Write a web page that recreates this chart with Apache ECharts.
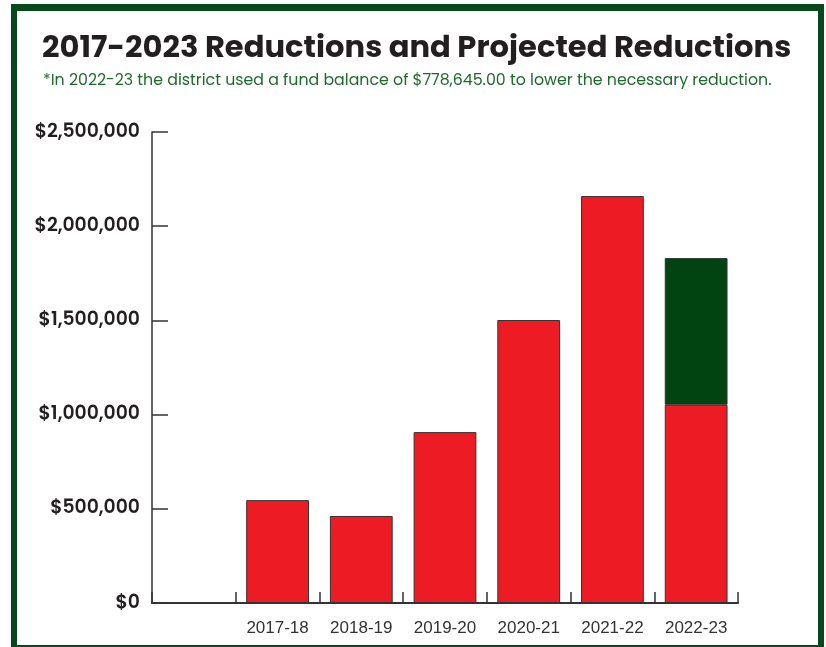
<!DOCTYPE html>
<html>
<head>
<meta charset="utf-8">
<script src="https://cdn.jsdelivr.net/npm/echarts@6/dist/echarts.min.js"></script>
<style>
html,body{margin:0;padding:0;background:#fff;}
#main{width:826px;height:647px;}
</style>
</head>
<body>
<div id="main"></div>
<script>
const categories = ['', '2017-18', '2018-19', '2019-20', '2020-21', '2021-22', '2022-23'];
const reductions = [null, 546000, 462000, 907000, 1502000, 2160000, 1052000];
const fundBalance = [null, null, null, null, null, null, 778645];
const yTicks = [0, 500000, 1000000, 1500000, 2000000, 2500000];

const frameColor = '#06491a';
const chart = echarts.init(document.getElementById('main'), null, {renderer: 'canvas'});
const fmt = v => '$' + v.toLocaleString('en-US');

chart.setOption({
  animation: false,
  backgroundColor: '#fff',
  title: [{
    text: '2017-2023 Reductions and Projected Reductions',
    left: 37,
    top: 29,
    textStyle: {fontFamily: 'Poppins, "Open Sans", sans-serif', fontWeight: 'bold', fontSize: 30.6, color: '#231f20'}
  }, {
    text: '*In 2022-23 the district used a fund balance of $778,645.00 to lower the necessary reduction.',
    left: 38,
    top: 68,
    textStyle: {fontFamily: 'Poppins, "Open Sans", sans-serif', fontWeight: 'normal', fontSize: 15.8, color: '#1d6b2b'}
  }],
  graphic: [
    {type: 'rect', shape: {x: 11, y: 4, width: 813, height: 7}, style: {fill: frameColor}, silent: true},
    {type: 'rect', shape: {x: 11, y: 4, width: 6, height: 643}, style: {fill: frameColor}, silent: true},
    {type: 'rect', shape: {x: 818, y: 4, width: 6, height: 643}, style: {fill: frameColor}, silent: true},
    {type: 'rect', shape: {x: 11, y: 645, width: 813, height: 2}, style: {fill: frameColor}, silent: true}
  ],
  grid: {left: 152, right: 88, top: 132, bottom: 44, containLabel: false},
  xAxis: {
    type: 'category',
    data: categories,
    boundaryGap: true,
    axisLine: {show: true, lineStyle: {color: '#333', width: 2}},
    axisTick: {show: true, inside: true, length: 11, alignWithLabel: false, lineStyle: {color: '#333', width: 1.5}},
    axisLabel: {margin: 17, fontSize: 17, color: '#333', fontFamily: '"Liberation Sans", Arial, sans-serif', interval: 0}
  },
  yAxis: {
    type: 'value',
    min: 0,
    max: 2500000,
    interval: 500000,
    splitLine: {show: false},
    axisLine: {show: true, lineStyle: {color: '#333', width: 1.5}},
    axisTick: {show: true, inside: true, length: 16, lineStyle: {color: '#333', width: 1.5}},
    axisLabel: {
      margin: 12, fontSize: 18.8, fontWeight: 600, color: '#231f20',
      fontFamily: 'Poppins, "Open Sans", sans-serif',
      formatter: v => yTicks.includes(v) ? fmt(v) : ''
    }
  },
  series: [{
    name: 'Reductions',
    type: 'bar',
    stack: 'total',
    data: reductions,
    barWidth: '75%',
    itemStyle: {color: '#ed1c24', borderColor: '#333', borderWidth: 1}
  }, {
    name: 'Fund balance',
    type: 'bar',
    stack: 'total',
    data: fundBalance,
    barWidth: '75%',
    itemStyle: {color: '#024411', borderColor: '#333', borderWidth: 1}
  }]
});
</script>
</body>
</html>
